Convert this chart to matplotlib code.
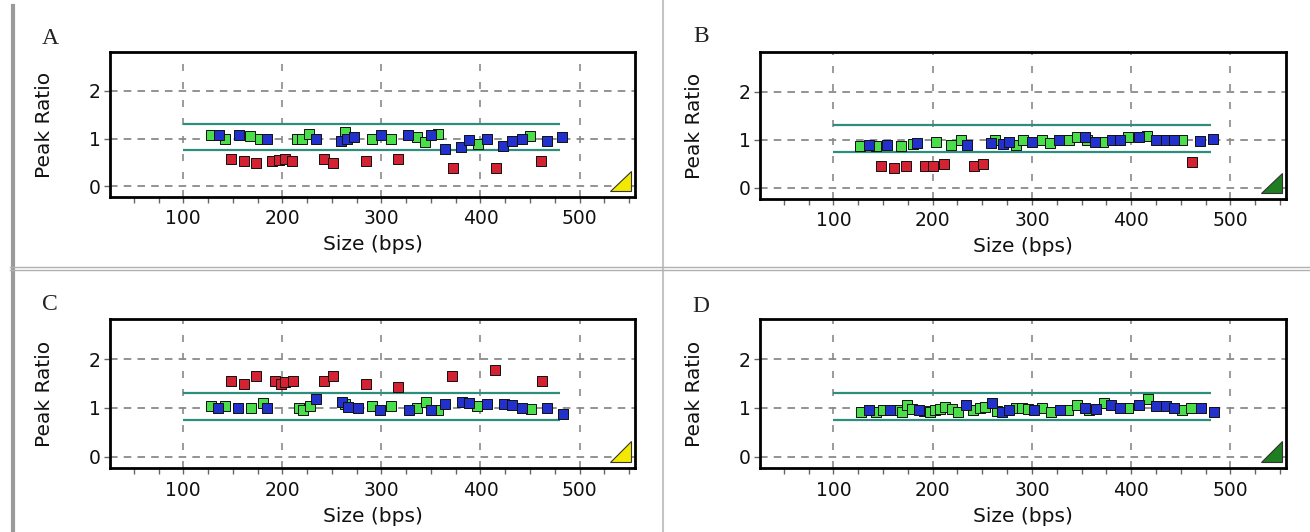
import matplotlib
matplotlib.use('Agg')
import matplotlib.pyplot as plt
from matplotlib.patches import Polygon
from matplotlib.lines import Line2D
from matplotlib.ticker import MultipleLocator

# ---------------- data ----------------
panel_labels = ['A', 'B', 'C', 'D']
x_ticks = [100, 200, 300, 400, 500]
y_ticks = [0, 1, 2]
band_upper = 1.3
band_lower = 0.75
band_start = 100
band_end = 480

a_green_x = [128, 142, 167, 177, 215, 220, 227, 263, 290, 310, 336, 344, 357, 397, 450]
a_green_y = [1.08, 1.00, 1.05, 1.00, 0.98, 1.00, 1.09, 1.14, 1.00, 1.00, 1.03, 0.92, 1.09, 0.89, 1.05]
a_blue_x = [136, 156, 184, 234, 259, 265, 272, 300, 327, 350, 364, 380, 388, 407, 423, 432, 442, 467, 482]
a_blue_y = [1.08, 1.08, 1.00, 1.00, 0.95, 1.00, 1.04, 1.08, 1.08, 1.08, 0.77, 0.82, 0.96, 1.00, 0.85, 0.95, 1.00, 0.95, 1.04]
a_red_x = [148, 161, 173, 190, 197, 203, 210, 242, 251, 284, 317, 372, 416, 461]
a_red_y = [0.56, 0.52, 0.49, 0.52, 0.55, 0.56, 0.52, 0.57, 0.49, 0.52, 0.56, 0.38, 0.38, 0.52]

b_green_x = [127, 143, 168, 180, 203, 218, 229, 263, 284, 291, 310, 318, 337, 345, 355, 372, 397, 416, 451]
b_green_y = [0.86, 0.86, 0.86, 0.92, 0.95, 0.90, 1.00, 1.00, 0.90, 0.99, 1.00, 0.93, 1.00, 1.05, 1.00, 0.95, 1.05, 1.08, 1.00]
b_blue_x = [136, 154, 184, 235, 259, 271, 277, 300, 327, 353, 364, 381, 389, 408, 425, 435, 443, 469, 482]
b_blue_y = [0.90, 0.90, 0.93, 0.90, 0.93, 0.92, 0.95, 0.95, 1.00, 1.05, 0.95, 1.00, 1.00, 1.05, 1.00, 1.00, 1.00, 0.97, 1.01]
b_red_x = [148, 161, 173, 192, 200, 211, 242, 251, 461]
b_red_y = [0.45, 0.41, 0.46, 0.45, 0.45, 0.50, 0.45, 0.50, 0.54]

c_green_x = [128, 142, 168, 180, 217, 221, 228, 263, 290, 310, 336, 345, 357, 396, 451]
c_green_y = [1.03, 1.03, 1.00, 1.10, 1.00, 0.95, 1.03, 1.07, 1.03, 1.04, 1.00, 1.12, 0.95, 1.03, 0.97]
c_blue_x = [135, 155, 184, 234, 260, 266, 276, 299, 328, 350, 364, 381, 388, 407, 424, 432, 442, 467, 483]
c_blue_y = [0.99, 1.00, 1.00, 1.19, 1.12, 1.01, 1.00, 0.95, 0.95, 0.95, 1.08, 1.12, 1.10, 1.08, 1.08, 1.05, 1.00, 1.00, 0.88]
c_red_x = [148, 161, 173, 193, 199, 203, 211, 242, 251, 284, 317, 371, 415, 462]
c_red_y = [1.56, 1.48, 1.65, 1.56, 1.49, 1.53, 1.56, 1.56, 1.65, 1.49, 1.42, 1.65, 1.77, 1.56]

d_green_x = [128, 143, 150, 164, 169, 174, 179, 191, 197, 202, 207, 212, 219, 226, 241, 248, 253,
             265, 284, 290, 296, 310, 319, 336, 345, 357, 373, 397, 417, 451, 460]
d_green_y = [0.92, 0.92, 0.95, 0.95, 0.92, 1.05, 0.97, 0.93, 0.92, 0.95, 0.97, 1.02, 0.97, 0.92, 0.95, 1.00, 1.02,
             0.93, 1.00, 1.00, 0.98, 1.00, 0.92, 0.95, 1.05, 0.95, 1.10, 0.99, 1.19, 0.95, 1.00]
d_blue_x = [136, 157, 186, 234, 260, 270, 277, 302, 328, 353, 365, 380, 389, 408, 425, 435, 443, 470, 483]
d_blue_y = [0.95, 0.95, 0.95, 1.05, 1.10, 0.92, 0.95, 0.95, 0.95, 1.00, 0.97, 1.05, 0.99, 1.05, 1.03, 1.03, 1.00, 0.99, 0.92]
d_red_x = []
d_red_y = []

triangle_colors = ['#f2e800', '#1f7d22', '#f2e800', '#1f7d22']

# ---------------- styling ----------------
W, H = 1310, 532
fig = plt.figure(figsize=(W / 100, H / 100), dpi=100)
fig.patch.set_facecolor('white')

GREEN = '#4ade4a'
BLUE = '#2230cc'
RED = '#d42232'
BAND = '#2e8e7e'

# axes rectangles in pixels: left, top, right, bottom
rects_px = [(110, 52, 635, 197), (760, 52, 1286, 199),
            (110, 319, 635, 468), (760, 319, 1286, 468)]
letter_px = [(50, 38), (701, 37), (50, 305), (701, 306)]

data = [
    (a_green_x, a_green_y, a_blue_x, a_blue_y, a_red_x, a_red_y),
    (b_green_x, b_green_y, b_blue_x, b_blue_y, b_red_x, b_red_y),
    (c_green_x, c_green_y, c_blue_x, c_blue_y, c_red_x, c_red_y),
    (d_green_x, d_green_y, d_blue_x, d_blue_y, d_red_x, d_red_y),
]

for i, (l, t, r, b) in enumerate(rects_px):
    ax = fig.add_axes([l / W, 1 - b / H, (r - l) / W, (b - t) / H])
    ax.set_xlim(26, 556)
    ax.set_ylim(-0.23, 2.82)
    ax.set_axisbelow(True)
    ax.set_facecolor('white')

    ax.set_xticks(x_ticks)
    ax.xaxis.set_minor_locator(MultipleLocator(25))
    ax.set_yticks(y_ticks)
    ax.tick_params(axis='both', which='both', direction='out', length=4.5,
                   width=1, color='#666666', labelsize=13.5, labelcolor='#111111')
    ax.tick_params(axis='x', which='both', pad=4.5)
    ax.tick_params(axis='y', which='both', pad=2)

    ax.xaxis.grid(True, which='major', color='#8a8a8a', lw=1.2, ls=(0, (4.2, 6.6)))
    ax.yaxis.grid(True, which='major', color='#8a8a8a', lw=1.3, ls=(0, (4.2, 3.4)))

    for sp in ax.spines.values():
        sp.set_linewidth(2.0)
        sp.set_color('black')

    gx, gy, bx, by, rx, ry = data[i]
    ax.hlines([band_upper, band_lower], band_start, band_end, colors=BAND, lw=1.6, zorder=2)
    ax.scatter(gx, gy, marker='s', s=44, c=GREEN, edgecolors='#111111', linewidths=0.7, zorder=3)
    ax.scatter(bx, by, marker='s', s=44, c=BLUE, edgecolors='#111111', linewidths=0.7, zorder=3)
    if len(rx):
        ax.scatter(rx, ry, marker='s', s=44, c=RED, edgecolors='#111111', linewidths=0.7, zorder=3)

    tri = Polygon([(0.953, 0.041), (0.993, 0.041), (0.993, 0.179)], closed=True,
                  transform=ax.transAxes, facecolor=triangle_colors[i],
                  edgecolor='#333333', lw=0.8, zorder=4, clip_on=False)
    ax.add_patch(tri)

    ax.set_xlabel('Size (bps)', fontsize=14.5, va='center', color='#111111')
    ax.xaxis.set_label_coords(0.5, -0.325)
    ax.set_ylabel('Peak Ratio', fontsize=14.5, va='center', ha='center', color='#111111')
    ax.yaxis.set_label_coords(-0.124, 0.5)

    lx, ly = letter_px[i]
    fig.text(lx / W, 1 - ly / H, panel_labels[i], ha='center', va='center',
             fontsize=17, family='Liberation Serif', color='#222222')

# window borders / dividers
def fig_line(x0, y0, x1, y1, color, lw):
    fig.add_artist(Line2D([x0 / W, x1 / W], [1 - y0 / H, 1 - y1 / H],
                          transform=fig.transFigure, color=color, lw=lw))

fig_line(13, 6, 13, 532, '#9a9a9a', 3)
fig_line(663, 0, 663, 532, '#c4c4c4', 1.5)
fig_line(10, 267, 1310, 267, '#b0b0b0', 1)
fig_line(10, 270, 1310, 270, '#b0b0b0', 1)

fig.savefig('out.png', dpi=100)
